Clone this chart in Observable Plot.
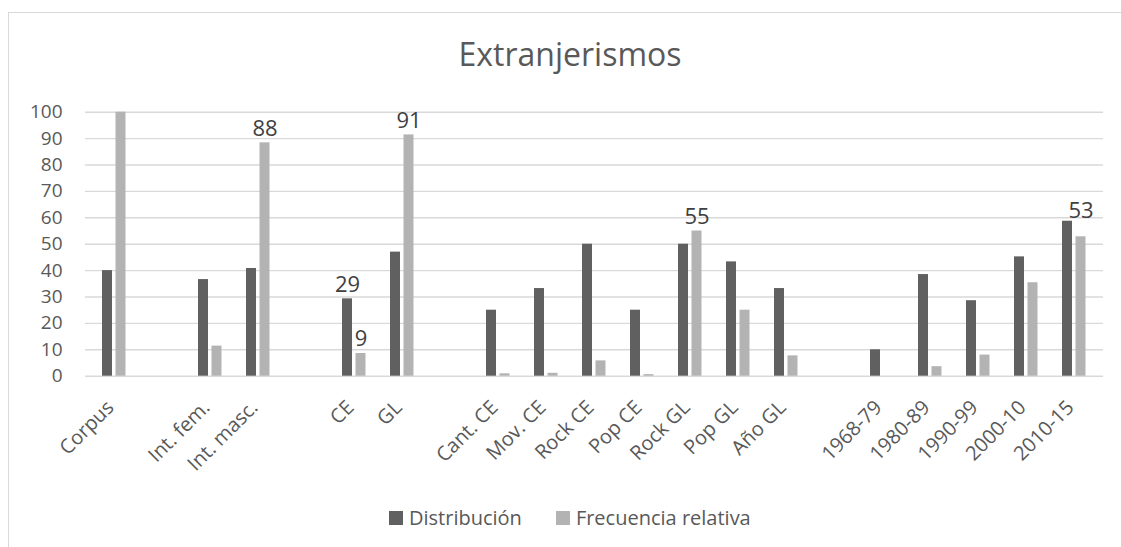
<!DOCTYPE html>
<html>
<head>
<meta charset="utf-8">
<script src="https://cdn.jsdelivr.net/npm/d3@7"></script>
<script src="https://cdn.jsdelivr.net/npm/@observablehq/plot@0.6"></script>
<style>
  html, body { margin: 0; padding: 0; background: #fff; }
  #wrap { position: relative; width: 1121px; height: 547px; overflow: hidden; font-family: "Open Sans", sans-serif; }
  #border { position: absolute; left: 8px; top: 12px; width: 1300px; height: 700px; border: 1.5px solid #d9d9d9; box-sizing: border-box; }
  #title { position: absolute; left: 0; width: 1140px; top: 34px; text-align: center; font-size: 32px; color: #595959; line-height: 40px; }
  #chart { position: absolute; left: 0; top: 0; }
  #legend { position: absolute; top: 504px; left: 389px; display: flex; align-items: center; font-size: 20px; color: #595959; line-height: 28px; }
  .sw { width: 14px; height: 14px; display: inline-block; margin-right: 6px; }
  .item { display: flex; align-items: center; margin-right: 34px; }
</style>
</head>
<body>
<div id="wrap">
  <div id="border"></div>
  <div id="chart"></div>
  <div id="title"></div>
  <div id="legend"></div>
</div>
<script>
// Slot order on the x axis (gap placeholders separate the groups)
const slots = ["Corpus", "gap1", "Int. fem.", "Int. masc.", "gap2", "CE", "GL", "gap3",
  "Cant. CE", "Mov. CE", "Rock CE", "Pop CE", "Rock GL", "Pop GL", "Año GL", "gap4",
  "1968-79", "1980-89", "1990-99", "2000-10", "2010-15"];
const categories = ["Corpus", "Int. fem.", "Int. masc.", "CE", "GL",
  "Cant. CE", "Mov. CE", "Rock CE", "Pop CE", "Rock GL", "Pop GL", "Año GL",
  "1968-79", "1980-89", "1990-99", "2000-10", "2010-15"];
const distribucion = [40, 36.6, 40.8, 29.3, 47, 25, 33.2, 50, 25, 50, 43.3, 33.2, 10, 38.5, 28.6, 45.2, 58.7];
const frecuencia = [100, 11.4, 88.4, 8.6, 91.4, 0.9, 1.1, 5.8, 0.6, 55, 25, 7.7, 0, 3.6, 8, 35.4, 52.8];
const seriesNames = ["Distribución", "Frecuencia relativa"];
const seriesColors = ["#606060", "#b3b3b3"];
const yTicks = [0, 10, 20, 30, 40, 50, 60, 70, 80, 90, 100];
const title = "Extranjerismos";
// data labels shown on the chart
const labelCats = ["Int. masc.", "CE", "CE", "GL", "Rock GL", "2010-15"];
const labelSeries = ["Frecuencia relativa", "Distribución", "Frecuencia relativa", "Frecuencia relativa", "Frecuencia relativa", "Frecuencia relativa"];
const labelText = ["88", "29", "9", "91", "55", "53"];

const rows = [];
categories.forEach((c, i) => {
  rows.push({cat: c, series: seriesNames[0], value: distribucion[i]});
  rows.push({cat: c, series: seriesNames[1], value: frecuencia[i]});
});
const labels = labelCats.map((c, i) => {
  const idx = categories.indexOf(c);
  const s = labelSeries[i];
  return {cat: c, series: s, text: labelText[i], value: s === seriesNames[0] ? distribucion[idx] : frecuencia[idx]};
});
const dark = rows.filter(d => d.series === seriesNames[0]);
const light = rows.filter(d => d.series === seriesNames[1]);
const isLast = d => d.cat === categories[categories.length - 1];

const plot = Plot.plot({
  width: 1121,
  height: 547,
  marginLeft: 85,
  marginRight: 18,
  marginTop: 111.7,
  marginBottom: 171.3,
  style: {fontFamily: "Open Sans, sans-serif", background: "transparent", overflow: "visible"},
  x: {domain: slots, padding: 0, label: null},
  y: {domain: [0, 100], label: null},
  marks: [
    Plot.ruleY(yTicks, {stroke: "#d9d9d9", strokeWidth: 1.4}),
    Plot.axisY({ticks: yTicks, tickSize: 0, tickPadding: 23, fontSize: 19, fill: "#595959", label: null}),
    Plot.axisX({tickSize: 0, tickRotate: -45, tickPadding: 26, fontSize: 20, fill: "#595959", label: null,
      dx: -4, dy: 2, tickFormat: d => d.startsWith("gap") ? "" : d}),
    Plot.barY(dark, {x: "cat", y: "value", fill: seriesColors[0], insetLeft: 12, insetRight: 26}),
    Plot.barY(light, {x: "cat", y: "value", fill: seriesColors[1], insetLeft: 25.5, insetRight: 12.5}),
    Plot.text(labels.filter(d => !isLast(d) && d.series === seriesNames[1]), {x: "cat", y: "value", text: "text",
      dx: 6.5, lineAnchor: "bottom", dy: -7, fontSize: 22, fill: "#404040"}),
    Plot.text(labels.filter(d => d.series === seriesNames[0]), {x: "cat", y: "value", text: "text",
      dx: -7, lineAnchor: "bottom", dy: -7, fontSize: 22, fill: "#404040"}),
    Plot.text(labels.filter(d => isLast(d)), {x: "cat", y: "value", text: "text",
      dx: 6.5, lineAnchor: "bottom", dy: -19, fontSize: 22, fill: "#404040"})
  ]
});
document.getElementById("chart").appendChild(plot);
document.getElementById("title").textContent = title;
const legend = document.getElementById("legend");
seriesNames.forEach((s, i) => {
  const item = document.createElement("div");
  item.className = "item";
  const sw = document.createElement("span");
  sw.className = "sw";
  sw.style.background = seriesColors[i];
  const t = document.createElement("span");
  t.textContent = s;
  item.appendChild(sw);
  item.appendChild(t);
  legend.appendChild(item);
});
</script>
</body>
</html>
